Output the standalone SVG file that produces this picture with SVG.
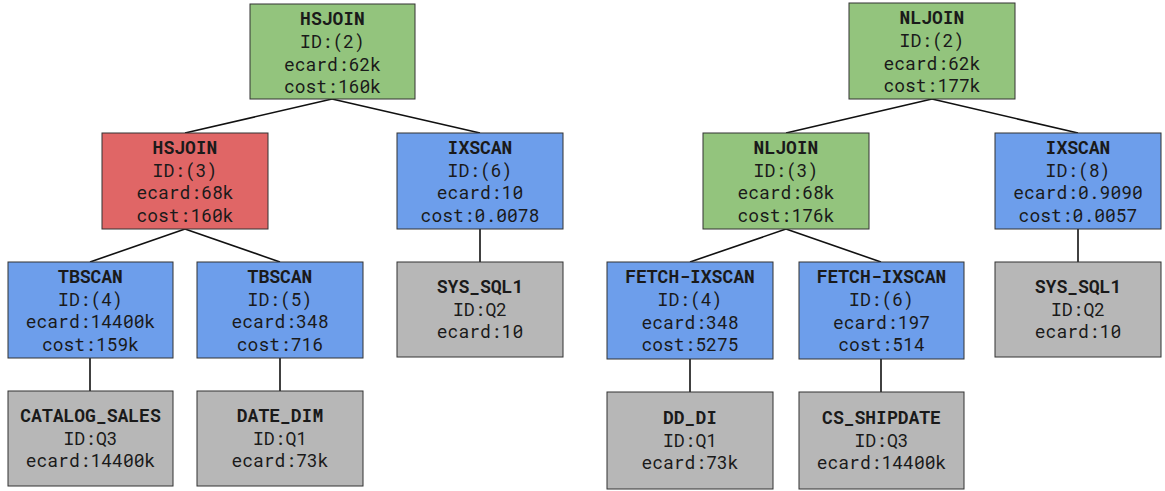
<svg xmlns="http://www.w3.org/2000/svg" width="1165" height="491" viewBox="0 0 1165 491">
  <style>
    .box { stroke: #333; stroke-width: 1; }
    .join { fill: #93c47d; }
    .hot { fill: #e06666; }
    .scan { fill: #6d9eeb; }
    .obj { fill: #b7b7b7; }
    text { font-family: "Roboto Mono", "DejaVu Sans Mono", "Liberation Mono", monospace; font-size: 18px; fill: #1a1a1a; text-anchor: middle; }
    .t { font-weight: bold; }
    .edges line { stroke: #111; stroke-width: 1.6; }
  </style>
  <rect width="1165" height="491" fill="#ffffff"/>

  <g class="edges" id="connectors">
    <!-- left plan -->
    <line x1="332" y1="99" x2="185" y2="133"/>
    <line x1="332" y1="99" x2="480" y2="133"/>
    <line x1="185" y1="229" x2="90" y2="262"/>
    <line x1="185" y1="229" x2="280" y2="262"/>
    <line x1="90" y1="358" x2="90" y2="391"/>
    <line x1="280" y1="358" x2="280" y2="391"/>
    <line x1="480" y1="229" x2="480" y2="262"/>
    <!-- right plan -->
    <line x1="932" y1="99" x2="786" y2="133"/>
    <line x1="932" y1="99" x2="1078" y2="133"/>
    <line x1="786" y1="229" x2="690" y2="262"/>
    <line x1="786" y1="229" x2="881" y2="262"/>
    <line x1="690" y1="359" x2="690" y2="392"/>
    <line x1="881" y1="359" x2="881" y2="392"/>
    <line x1="1078" y1="229" x2="1078" y2="262"/>
  </g>

  <!-- left plan -->
  <g id="l-hsjoin2">
    <rect class="box join" x="250" y="4" width="165" height="95"/>
    <text class="t" x="332.5" y="25">HSJOIN</text>
    <text x="332.5" y="48">ID:(2)</text>
    <text x="332.5" y="71">ecard:62k</text>
    <text x="332.5" y="93">cost:160k</text>
  </g>
  <g id="l-hsjoin3">
    <rect class="box hot" x="102" y="133" width="166" height="96"/>
    <text class="t" x="185" y="154">HSJOIN</text>
    <text x="185" y="177">ID:(3)</text>
    <text x="185" y="199">ecard:68k</text>
    <text x="185" y="222">cost:160k</text>
  </g>
  <g id="l-ixscan6">
    <rect class="box scan" x="397" y="133" width="166" height="96"/>
    <text class="t" x="480" y="154">IXSCAN</text>
    <text x="480" y="177">ID:(6)</text>
    <text x="480" y="199">ecard:10</text>
    <text x="480" y="222">cost:0.0078</text>
  </g>
  <g id="l-tbscan4">
    <rect class="box scan" x="8" y="262" width="165" height="96"/>
    <text class="t" x="90.5" y="283">TBSCAN</text>
    <text x="90.5" y="306">ID:(4)</text>
    <text x="90.5" y="328">ecard:14400k</text>
    <text x="90.5" y="351">cost:159k</text>
  </g>
  <g id="l-tbscan5">
    <rect class="box scan" x="197" y="262" width="166" height="96"/>
    <text class="t" x="280" y="283">TBSCAN</text>
    <text x="280" y="306">ID:(5)</text>
    <text x="280" y="328">ecard:348</text>
    <text x="280" y="351">cost:716</text>
  </g>
  <g id="l-sys-sql1">
    <rect class="box obj" x="397" y="262" width="166" height="95"/>
    <text class="t" x="480" y="293">SYS_SQL1</text>
    <text x="480" y="316">ID:Q2</text>
    <text x="480" y="338">ecard:10</text>
  </g>
  <g id="l-catalog-sales">
    <rect class="box obj" x="8" y="391" width="165" height="95"/>
    <text class="t" x="90.5" y="422">CATALOG_SALES</text>
    <text x="90.5" y="445">ID:Q3</text>
    <text x="90.5" y="467">ecard:14400k</text>
  </g>
  <g id="l-date-dim">
    <rect class="box obj" x="197" y="391" width="166" height="95"/>
    <text class="t" x="280" y="422">DATE_DIM</text>
    <text x="280" y="445">ID:Q1</text>
    <text x="280" y="467">ecard:73k</text>
  </g>

  <!-- right plan -->
  <g id="r-nljoin2">
    <rect class="box join" x="849" y="3" width="166" height="96"/>
    <text class="t" x="932" y="24">NLJOIN</text>
    <text x="932" y="47">ID:(2)</text>
    <text x="932" y="70">ecard:62k</text>
    <text x="932" y="92">cost:177k</text>
  </g>
  <g id="r-nljoin3">
    <rect class="box join" x="703" y="133" width="166" height="96"/>
    <text class="t" x="786" y="154">NLJOIN</text>
    <text x="786" y="177">ID:(3)</text>
    <text x="786" y="199">ecard:68k</text>
    <text x="786" y="222">cost:176k</text>
  </g>
  <g id="r-ixscan8">
    <rect class="box scan" x="995" y="133" width="166" height="96"/>
    <text class="t" x="1078" y="154">IXSCAN</text>
    <text x="1078" y="177">ID:(8)</text>
    <text x="1078" y="199">ecard:0.9090</text>
    <text x="1078" y="222">cost:0.0057</text>
  </g>
  <g id="r-fetch4">
    <rect class="box scan" x="607" y="262" width="166" height="97"/>
    <text class="t" x="690" y="283">FETCH-IXSCAN</text>
    <text x="690" y="306">ID:(4)</text>
    <text x="690" y="329">ecard:348</text>
    <text x="690" y="351">cost:5275</text>
  </g>
  <g id="r-fetch6">
    <rect class="box scan" x="799" y="262" width="165" height="97"/>
    <text class="t" x="881.5" y="283">FETCH-IXSCAN</text>
    <text x="881.5" y="306">ID:(6)</text>
    <text x="881.5" y="329">ecard:197</text>
    <text x="881.5" y="351">cost:514</text>
  </g>
  <g id="r-sys-sql1">
    <rect class="box obj" x="995" y="262" width="166" height="95"/>
    <text class="t" x="1078" y="293">SYS_SQL1</text>
    <text x="1078" y="316">ID:Q2</text>
    <text x="1078" y="338">ecard:10</text>
  </g>
  <g id="r-dd-di">
    <rect class="box obj" x="607" y="392" width="166" height="97"/>
    <text class="t" x="690" y="424">DD_DI</text>
    <text x="690" y="447">ID:Q1</text>
    <text x="690" y="469">ecard:73k</text>
  </g>
  <g id="r-cs-shipdate">
    <rect class="box obj" x="799" y="392" width="165" height="97"/>
    <text class="t" x="881.5" y="424">CS_SHIPDATE</text>
    <text x="881.5" y="447">ID:Q3</text>
    <text x="881.5" y="469">ecard:14400k</text>
  </g>
</svg>
